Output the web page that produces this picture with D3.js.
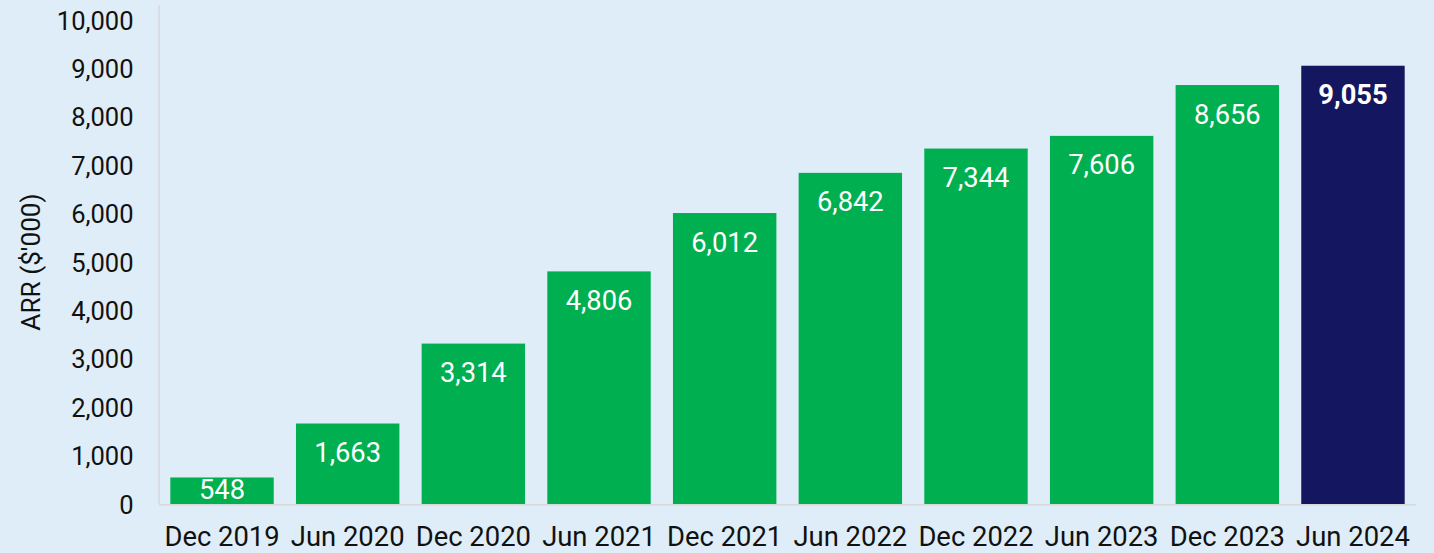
<!DOCTYPE html>
<html>
<head>
<meta charset="utf-8">
<script src="https://cdn.jsdelivr.net/npm/d3@7"></script>
<style>
  html, body { margin: 0; padding: 0; background: #deedf7; }
  svg { display: block; font-family: Roboto, "Noto Sans", sans-serif; }
</style>
</head>
<body>
<svg id="chart" width="1434" height="553"></svg>
<script>
// Annual recurring revenue by half-year period
const periods = ["Dec 2019", "Jun 2020", "Dec 2020", "Jun 2021", "Dec 2021",
                 "Jun 2022", "Dec 2022", "Jun 2023", "Dec 2023", "Jun 2024"];
const arrValues = [548, 1663, 3314, 4806, 6012, 6842, 7344, 7606, 8656, 9055];
const yTicks = [0, 1000, 2000, 3000, 4000, 5000, 6000, 7000, 8000, 9000, 10000];
const highlightPeriod = "Jun 2024";

const W = 1434, H = 553;
const margin = { left: 159, right: 18, top: 20, bottom: 49 };

const svg = d3.select("#chart");
svg.append("rect").attr("width", W).attr("height", H).attr("fill", "#deedf7");

const x = d3.scaleBand()
  .domain(periods)
  .range([margin.left, W - margin.right])
  .paddingInner(0.177)
  .paddingOuter(0.09);

const y = d3.scaleLinear()
  .domain([0, 10000])
  .range([H - margin.bottom, margin.top]);

const fmt = d3.format(",");

// Bars
svg.append("g").selectAll("rect")
  .data(periods)
  .join("rect")
  .attr("x", d => x(d))
  .attr("width", x.bandwidth())
  .attr("y", (d, i) => y(arrValues[i]))
  .attr("height", (d, i) => y(0) - y(arrValues[i]))
  .attr("fill", d => d === highlightPeriod ? "#14175f" : "#00b050");

// Axis lines
const axisColor = "#d6d9dc";
svg.append("line")
  .attr("x1", margin.left).attr("x2", margin.left)
  .attr("y1", 5).attr("y2", y(0))
  .attr("stroke", axisColor).attr("stroke-width", 1.5);
svg.append("line")
  .attr("x1", margin.left).attr("x2", W - margin.right)
  .attr("y1", y(0) + 0.75).attr("y2", y(0) + 0.75)
  .attr("stroke", axisColor).attr("stroke-width", 1.5);

// Y axis
const yAxis = d3.axisLeft(y).tickValues(yTicks).tickFormat(fmt).tickSize(0).tickPadding(0);
const yg = svg.append("g")
  .attr("transform", `translate(${margin.left - 25.5},0)`)
  .call(yAxis);
yg.select(".domain").remove();
yg.selectAll("text")
  .attr("font-size", 25.5)
  .attr("font-family", "Roboto, sans-serif")
  .attr("fill", "#111")
  .attr("dy", "0.36em");

// X axis
const xAxis = d3.axisBottom(x).tickSize(0).tickPadding(0);
const xg = svg.append("g")
  .attr("transform", `translate(0,${y(0)})`)
  .call(xAxis);
xg.select(".domain").remove();
xg.selectAll("text")
  .attr("font-size", 27.4)
  .attr("font-family", "Roboto, sans-serif")
  .attr("fill", "#111")
  .attr("dy", null)
  .attr("y", 41.5);

// Y axis title
svg.append("text")
  .attr("transform", `translate(40,262) rotate(-90)`)
  .attr("text-anchor", "middle")
  .attr("font-size", 26.2)
  .attr("fill", "#111")
  .text("ARR ($'000)");

// Value labels inside bar tops
svg.append("g").selectAll("text")
  .data(periods)
  .join("text")
  .attr("x", d => x(d) + x.bandwidth() / 2)
  .attr("y", (d, i) => Math.min(y(arrValues[i]) + 38.5, y(0) - 5))
  .attr("text-anchor", "middle")
  .attr("font-size", 27.3)
  .attr("font-weight", d => d === highlightPeriod ? 700 : 400)
  .attr("fill", "#ffffff")
  .text((d, i) => fmt(arrValues[i]));
</script>
</body>
</html>
